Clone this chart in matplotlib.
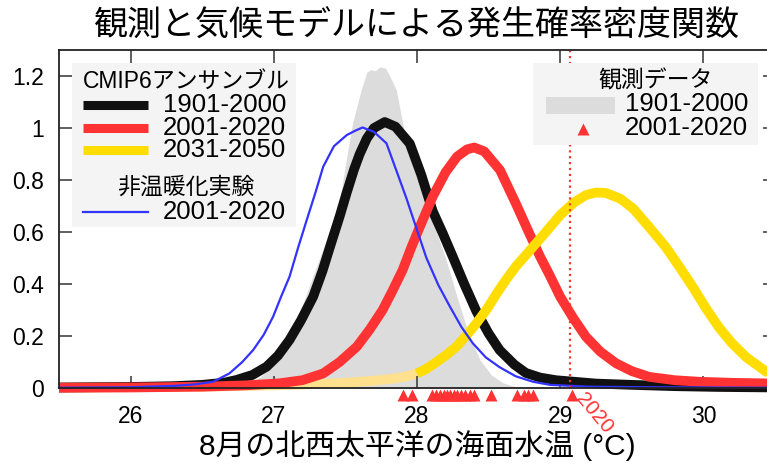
import matplotlib
matplotlib.use("Agg")
import matplotlib.pyplot as plt
from matplotlib.patches import Rectangle
import numpy as np

plt.rcParams['font.family'] = ['Liberation Sans', 'Noto Sans CJK JP']

# CMIP6 ensemble, 1901-2000
black_x = [25.5, 26.0, 26.3, 26.5, 26.65, 26.74, 26.85, 26.95, 27.03, 27.11, 27.19, 27.275,
           27.34, 27.40, 27.46, 27.508, 27.56, 27.6, 27.65, 27.7, 27.775, 27.85, 27.95, 28.03,
           28.11, 28.18, 28.25, 28.33, 28.415, 28.5, 28.577, 28.68, 28.76, 28.86, 28.97, 29.25,
           29.5, 29.8, 30.1, 30.5]
black_y = [0.002, 0.004, 0.007, 0.012, 0.02, 0.031, 0.05, 0.082, 0.125, 0.185, 0.26, 0.351,
           0.45, 0.556, 0.66, 0.749, 0.84, 0.90, 0.96, 1.0, 1.023, 1.005, 0.94, 0.82,
           0.68, 0.595, 0.505, 0.40, 0.295, 0.21, 0.146, 0.09, 0.058, 0.04, 0.03, 0.017,
           0.012, 0.007, 0.004, 0.002]

# CMIP6 ensemble, 2001-2020
red_x = [25.5, 26.0, 26.5, 26.8, 27.04, 27.2, 27.345, 27.46, 27.58, 27.67, 27.76, 27.83,
         27.90, 27.96, 28.02, 28.11, 28.2, 28.28, 28.35, 28.40, 28.47, 28.58, 28.69, 28.78,
         28.86, 28.93, 29.0, 29.09, 29.18, 29.28, 29.39, 29.5, 29.62, 29.8, 29.97, 30.2, 30.5]
red_y = [0.001, 0.002, 0.005, 0.01, 0.018, 0.03, 0.056, 0.1, 0.159, 0.225, 0.30, 0.375,
         0.454, 0.54, 0.62, 0.736, 0.83, 0.89, 0.918, 0.925, 0.91, 0.838, 0.71, 0.6,
         0.505, 0.43, 0.351, 0.27, 0.197, 0.14, 0.095, 0.065, 0.043, 0.03, 0.024, 0.02, 0.017]

# CMIP6 ensemble, 2031-2050
yellow_x = [25.5, 26.0, 26.5, 27.0, 27.3, 27.5, 27.7, 27.85, 27.93, 28.0, 28.06, 28.11,
            28.2, 28.275, 28.35, 28.415, 28.49, 28.555, 28.62, 28.69, 28.79, 28.9, 29.0,
            29.1, 29.18, 29.25, 29.32, 29.42, 29.51, 29.62, 29.74, 29.84, 29.93, 30.02,
            30.11, 30.2, 30.30, 30.44, 30.5]
yellow_y = [0.002, 0.003, 0.005, 0.01, 0.015, 0.02, 0.028, 0.037, 0.045, 0.056, 0.072, 0.09,
            0.125, 0.159, 0.205, 0.249, 0.305, 0.362, 0.415, 0.467, 0.53, 0.60, 0.665,
            0.715, 0.742, 0.752, 0.75, 0.728, 0.69, 0.62, 0.54, 0.46, 0.385, 0.305,
            0.232, 0.172, 0.118, 0.062, 0.048]

# non-warming experiment, 2001-2020
blue_x = [25.5, 26.0, 26.3, 26.45, 26.577, 26.69, 26.78, 26.856, 26.93, 26.995, 27.05, 27.11,
          27.17, 27.23, 27.29, 27.345, 27.42, 27.51, 27.57, 27.62, 27.70, 27.787, 27.88,
          27.926, 28.0, 28.066, 28.15, 28.23, 28.31, 28.39, 28.48, 28.577, 28.69, 28.81, 28.93,
          29.2, 29.6, 30.5]
blue_y = [0.001, 0.003, 0.008, 0.014, 0.024, 0.056, 0.1, 0.146, 0.205, 0.274, 0.35, 0.428,
          0.54, 0.646, 0.75, 0.851, 0.93, 0.973, 0.99, 1.002, 0.985, 0.941, 0.80,
          0.73, 0.608, 0.50, 0.395, 0.313, 0.235, 0.172, 0.118, 0.08, 0.045, 0.024, 0.012,
          0.005, 0.003, 0.001]

# observations, 1901-2000
obs_x = [25.5, 26.7, 26.85, 26.92, 27.0, 27.1, 27.2, 27.3, 27.4, 27.46, 27.51, 27.55, 27.61,
         27.65, 27.68, 27.71, 27.74, 27.78, 27.81, 27.856, 27.90, 27.95, 28.02, 28.07, 28.2,
         28.28, 28.36, 28.44, 28.52, 28.6, 28.68, 28.75, 30.5]
obs_y = [0, 0, 0.02, 0.05, 0.10, 0.2, 0.32, 0.47, 0.62, 0.72, 0.89, 1.018, 1.146,
         1.215, 1.225, 1.22, 1.235, 1.23, 1.2, 1.146, 1.018, 0.89, 0.78, 0.70, 0.5,
         0.35, 0.21, 0.108, 0.05, 0.02, 0.006, 0, 0]

# observed yearly values, 2001-2020
obs_years_x = [27.90, 27.963, 28.103, 28.131, 28.159, 28.187, 28.208, 28.229, 28.256, 28.277,
               28.305, 28.333, 28.368, 28.396, 28.515, 28.696, 28.745, 28.773, 28.808, 29.08]
sst_2020 = 29.07

xticks = [26, 27, 28, 29, 30]
yticks = [0, 0.2, 0.4, 0.6, 0.8, 1.0, 1.2]
ytick_labels = ['0', '0.2', '0.4', '0.6', '0.8', '1', '1.2']

BLACK = '#111111'
RED = '#ff3333'
YELLOW = '#ffdd00'
PALE_YELLOW = '#ffe08c'
BLUE = '#3333ff'
GRAY = '#dcdcdc'
BOX = '#f4f4f4'

fig = plt.figure(figsize=(7.67, 4.66), dpi=100)
ax = fig.add_axes([0.0769, 0.1674, 0.9335, 0.7253])

ax.fill_between(obs_x, obs_y, 0, color=GRAY, lw=0, zorder=1)

yx = np.array(yellow_x)
yy = np.array(yellow_y)
pale = yx <= 28.0
solid = yx >= 28.0
ax.plot(yx[pale], yy[pale], color=PALE_YELLOW, lw=7, zorder=1.5, clip_on=False,
        solid_capstyle='butt')
ax.plot(black_x, black_y, color=BLACK, lw=7, zorder=2, clip_on=False, solid_capstyle='butt')
ax.plot(red_x, red_y, color=RED, lw=7, zorder=3, clip_on=False, solid_capstyle='butt')
ax.plot(yx[solid], yy[solid], color=YELLOW, lw=7, zorder=4, clip_on=False,
        solid_capstyle='butt')
ax.plot(blue_x, blue_y, color=BLUE, lw=1.6, zorder=5, clip_on=False)

ax.axvline(sst_2020, color=RED, lw=1.6, ls=':', zorder=6)
ax.plot(obs_years_x, [-0.027] * len(obs_years_x), ls='none', marker='^', ms=8.5,
        color=RED, mec='none', clip_on=False, zorder=7)
ax.text(sst_2020 + 0.06, -0.03, '2020', color=RED, fontsize=15, rotation=-50,
        rotation_mode='anchor', ha='left', va='center', clip_on=False)

ax.set_xlim(25.5, 30.5)
ax.set_ylim(0, 1.3)
ax.set_xticks(xticks)
ax.set_yticks(yticks)
ax.set_yticklabels(ytick_labels)
ax.tick_params(direction='in', length=9, width=1.1, color='#333333', labelsize=16.5,
               top=True, right=True)
ax.tick_params(axis='x', pad=12)
ax.tick_params(axis='y', pad=11)
for s in ax.spines.values():
    s.set_linewidth(1.3)
    s.set_color('#222222')
    s.set_zorder(8)

ax.set_title('観測と気候モデルによる発生確率密度関数', fontsize=24.5, pad=10)
ax.set_xlabel('8月の北西太平洋の海面水温 (°C)', fontsize=21.5, labelpad=2)

# legend boxes, drawn by hand in axes fraction
tr = ax.transAxes
ax.add_patch(Rectangle((0.0182, 0.4763), 0.3128, 0.4852, transform=tr, color=BOX,
                       zorder=9, lw=0))
ax.text(0.1774, 0.9083, 'CMIP6アンサンブル', transform=tr, fontsize=16.5, ha='center',
        va='center', zorder=10)
for yrow, col, lab in [(0.8373, BLACK, '1901-2000'), (0.7692, RED, '2001-2020'),
                       (0.7041, YELLOW, '2031-2050')]:
    ax.plot([0.0335, 0.1243], [yrow, yrow], transform=tr, color=col, lw=6.5,
            solid_capstyle='butt', zorder=10, clip_on=False)
    ax.text(0.1453, yrow, lab, transform=tr, fontsize=18.5, va='center', zorder=10)
ax.text(0.1774, 0.5947, '非温暖化実験', transform=tr, fontsize=16.5, ha='center',
        va='center', zorder=10)
ax.plot([0.0335, 0.1243], [0.5207, 0.5207], transform=tr, color=BLUE, lw=1.6, zorder=10)
ax.text(0.1453, 0.5207, '2001-2020', transform=tr, fontsize=18.5, va='center', zorder=10)

ax.add_patch(Rectangle((0.6620, 0.7189), 0.3143, 0.2426, transform=tr, color=BOX,
                       zorder=9, lw=0))
ax.text(0.8338, 0.9083, '観測データ', transform=tr, fontsize=16.5, ha='center',
        va='center', zorder=10)
ax.add_patch(Rectangle((0.6802, 0.8107), 0.0963, 0.0502, transform=tr, color=GRAY,
                       zorder=10, lw=0))
ax.text(0.7905, 0.8402, '1901-2000', transform=tr, fontsize=18.5, va='center', zorder=10)
ax.plot([0.7318], [0.7663], transform=tr, marker='^', ms=8.5, color=RED, mec='none',
        ls='none', zorder=10)
ax.text(0.7905, 0.7692, '2001-2020', transform=tr, fontsize=18.5, va='center', zorder=10)

fig.savefig('out.png', dpi=100)
